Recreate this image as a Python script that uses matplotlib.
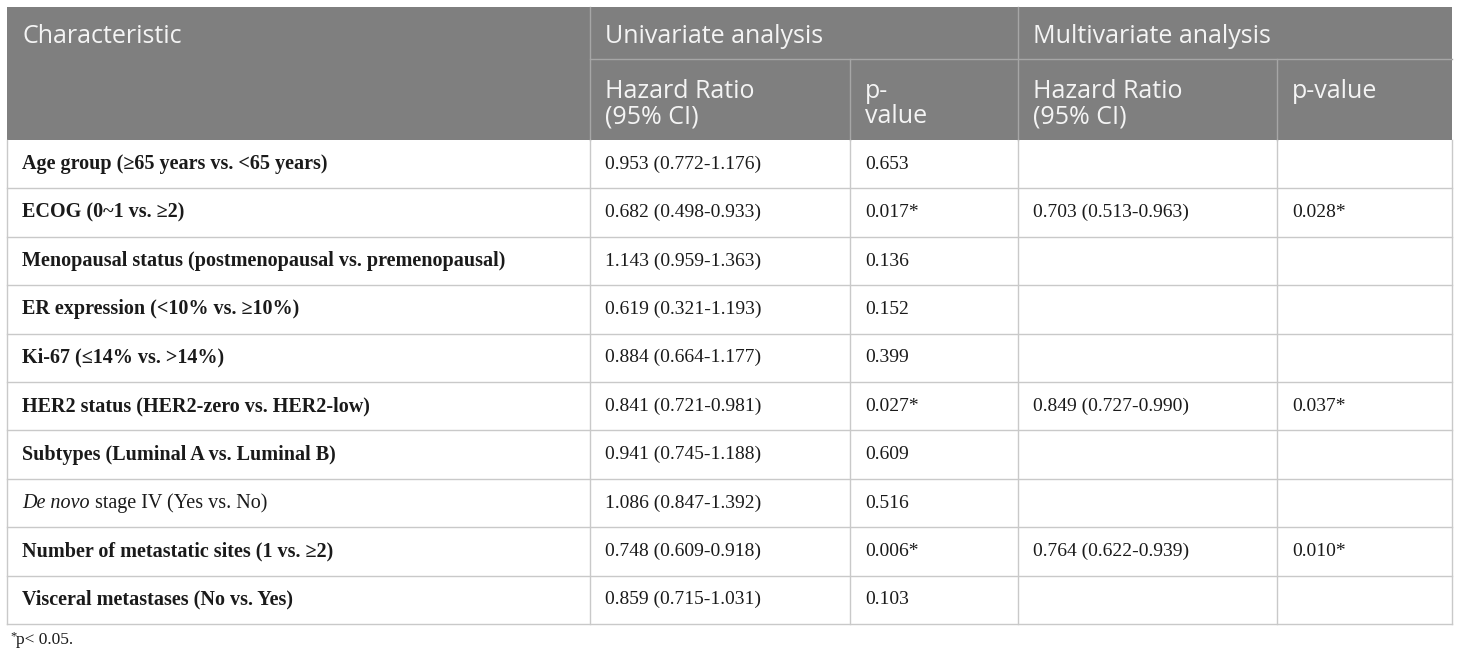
import matplotlib
matplotlib.use('Agg')
import matplotlib.pyplot as plt
from matplotlib.patches import Rectangle

# ---- table content ----
group_headers = ['Characteristic', 'Univariate analysis', 'Multivariate analysis']
sub_headers = ['Hazard Ratio\n(95% CI)', 'p-\nvalue', 'Hazard Ratio\n(95% CI)', 'p-value']

characteristics = [
    'Age group (\u226565 years vs. <65 years)',
    'ECOG (0~1 vs. \u22652)',
    'Menopausal status (postmenopausal vs. premenopausal)',
    'ER expression (<10% vs. \u226510%)',
    'Ki-67 (\u226414% vs. >14%)',
    'HER2 status (HER2-zero vs. HER2-low)',
    'Subtypes (Luminal A vs. Luminal B)',
    'De novo| stage IV (Yes vs. No)',
    'Number of metastatic sites (1 vs. \u22652)',
    'Visceral metastases (No vs. Yes)',
]
uni_hr = ['0.953 (0.772-1.176)', '0.682 (0.498-0.933)', '1.143 (0.959-1.363)',
          '0.619 (0.321-1.193)', '0.884 (0.664-1.177)', '0.841 (0.721-0.981)',
          '0.941 (0.745-1.188)', '1.086 (0.847-1.392)', '0.748 (0.609-0.918)',
          '0.859 (0.715-1.031)']
uni_p = ['0.653', '0.017*', '0.136', '0.152', '0.399', '0.027*', '0.609',
         '0.516', '0.006*', '0.103']
multi_hr = ['', '0.703 (0.513-0.963)', '', '', '', '0.849 (0.727-0.990)', '',
            '', '0.764 (0.622-0.939)', '']
multi_p = ['', '0.028*', '', '', '', '0.037*', '', '', '0.010*', '']
footnote = 'p< 0.05.'

# ---- layout (pixels) ----
W, H = 1460, 661
col_x = [7, 590, 850, 1018, 1277, 1452]
y_top, y_mid, y_head = 7, 59, 140
row_h = 48.4
pad = 15

HEAD_BG = '#7f7f7f'
HEAD_LINE = '#a6a6a6'
BODY_LINE = '#c9c9c9'
HEAD_TXT = '#f4f4f4'
BODY_TXT = '#1a1a1a'
HFONT = ['Open Sans', 'DejaVu Sans']
BFONT = ['Liberation Serif', 'DejaVu Serif']
hfs = 18
lab_fs, num_fs = 14.5, 14.0

fig = plt.figure(figsize=(W / 100, H / 100), dpi=100)
ax = fig.add_axes([0, 0, 1, 1])
ax.set_xlim(0, W); ax.set_ylim(H, 0); ax.axis('off')

# header background
ax.add_patch(Rectangle((col_x[0], y_top), col_x[-1] - col_x[0], y_head - y_top,
                       facecolor=HEAD_BG, edgecolor='none'))
ax.plot([col_x[1], col_x[-1]], [y_mid, y_mid], color=HEAD_LINE, lw=1)
for i, x in enumerate(col_x[1:-1], start=1):
    y0 = y_top if i in (1, 3) else y_mid
    ax.plot([x, x], [y0, y_head], color=HEAD_LINE, lw=1)

# header text (baselines)
for txt, x in zip(group_headers, [col_x[0], col_x[1], col_x[3]]):
    ax.text(x + pad, 43, txt, ha='left', va='baseline',
            fontsize=hfs, color=HEAD_TXT, family=HFONT)
for txt, x in zip(sub_headers, col_x[1:5]):
    for j, line in enumerate(txt.split('\n')):
        ax.text(x + pad, 98 + 25 * j, line, ha='left', va='baseline', fontsize=hfs,
                color=HEAD_TXT, family=HFONT)

# body grid
n = len(characteristics)
y_bot = y_head + n * row_h
for k in range(1, n + 1):
    yy = y_head + k * row_h
    ax.plot([col_x[0], col_x[-1]], [yy, yy], color=BODY_LINE, lw=1)
for x in col_x:
    ax.plot([x, x], [y_head, y_bot], color=BODY_LINE, lw=1)

# body text
fig.canvas.draw()
renderer = fig.canvas.get_renderer()
inv = ax.transData.inverted()
for k in range(n):
    yc = y_head + (k + 0.5) * row_h
    label = characteristics[k]
    if '|' in label:
        ital, rest = label.split('|')
        t = ax.text(col_x[0] + pad, yc, ital, ha='left', va='center', fontsize=lab_fs,
                    color=BODY_TXT, family=BFONT, style='italic')
        bb = t.get_window_extent(renderer)
        x_end = inv.transform((bb.x1, bb.y0))[0]
        ax.text(x_end, yc, rest, ha='left', va='center', fontsize=lab_fs,
                color=BODY_TXT, family=BFONT)
    else:
        ax.text(col_x[0] + pad, yc, label, ha='left', va='center', fontsize=lab_fs,
                color=BODY_TXT, family=BFONT, fontweight='bold')
    for col, vals in enumerate([uni_hr, uni_p, multi_hr, multi_p], start=1):
        if vals[k]:
            ax.text(col_x[col] + pad, yc, vals[k], ha='left', va='center',
                    fontsize=num_fs, color=BODY_TXT, family=BFONT)

# footnote
ax.text(10, y_bot + 6, '*', ha='left', va='top', fontsize=9, color=BODY_TXT, family=BFONT)
ax.text(16, y_bot + 16, footnote, ha='left', va='center', fontsize=12.5,
        color=BODY_TXT, family=BFONT)

fig.savefig('out.png', dpi=100)
plt.close(fig)
